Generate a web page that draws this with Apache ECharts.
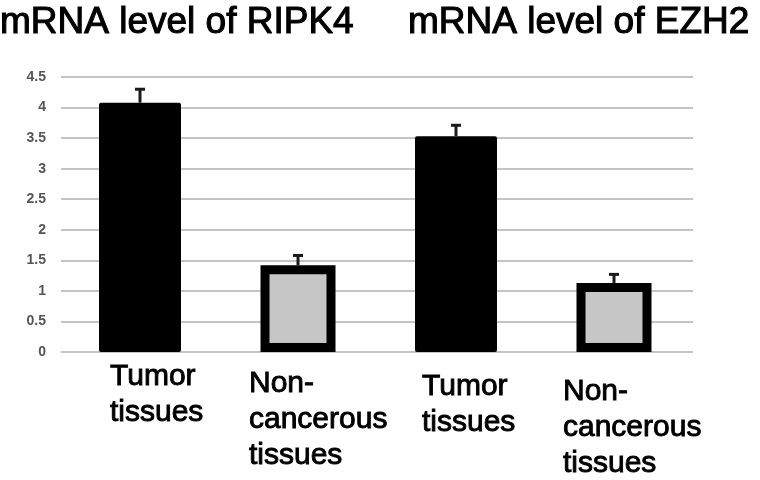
<!DOCTYPE html>
<html>
<head>
<meta charset="utf-8">
<script src="https://cdn.jsdelivr.net/npm/echarts@6/dist/echarts.min.js"></script>
<style>
    html, body { margin: 0; padding: 0; background: #fff; }
    #chart { width: 760px; height: 480px; }
</style>
</head>
<body>
<div id="chart"></div>
<script>
    // values
    var categories = ['Tumor\ntissues', 'Non-\ncancerous\ntissues', 'Tumor\ntissues', 'Non-\ncancerous\ntissues'];
    var titles = ['mRNA level of RIPK4', 'mRNA level of EZH2'];
    var tumorValues = [4.08, '-', 3.53, '-'];
    var nonCancerValues = ['-', 1.42, '-', 1.13];
    var meanValues = [4.08, 1.42, 3.53, 1.13];
    var errorValues = [0.22, 0.16, 0.18, 0.14];
    var yMin = 0, yMax = 4.5, yStep = 0.5;

    // label placement under each bar (px from category centre / zero line)
    var labelShift = [[-30, 7], [-49, 14], [-34, 17], [-51, 22]];

    var chart = echarts.init(document.getElementById('chart'));

    function renderError(params, api) {
        var i = api.value(0);
        var base = api.coord([i, api.value(1)]);
        var top = api.coord([i, api.value(1) + api.value(2)]);
        var style = { stroke: '#1a1a1a', lineWidth: 3 };
        return {
            type: 'group',
            children: [
                { type: 'line', shape: { x1: base[0], y1: base[1], x2: top[0], y2: top[1] }, style: style },
                { type: 'line', shape: { x1: top[0] - 5, y1: top[1], x2: top[0] + 5, y2: top[1] }, style: style }
            ]
        };
    }

    function renderLabel(params, api) {
        var i = api.value(0);
        var p = api.coord([i, 0]);
        var s = labelShift[i];
        return {
            type: 'text',
            x: p[0] + s[0],
            y: p[1] + s[1],
            style: {
                text: categories[i],
                fill: '#000',
                fontSize: 30,
                fontFamily: 'Liberation Sans',
                lineHeight: 36,
                align: 'left',
                verticalAlign: 'top',
                stroke: '#000',
                lineWidth: 0.9
            }
        };
    }

    var titleStyle = {
        fontSize: 37, fontWeight: 'normal', fontFamily: 'Liberation Sans', color: '#000',
        textBorderColor: '#000', textBorderWidth: 1.1
    };

    var option = {
        animation: false,
        backgroundColor: '#fff',
        title: [
            { text: titles[0], left: 0, top: 4, padding: 0, textStyle: titleStyle },
            { text: titles[1], left: 408, top: 4, padding: 0, textStyle: titleStyle }
        ],
        grid: { left: 61, right: 67, top: 77, bottom: 128, outerBoundsMode: 'none' },
        xAxis: [
            { type: 'category', data: categories, axisLine: { show: false }, axisTick: { show: false }, axisLabel: { show: false } },
            { type: 'category', data: categories, show: false }
        ],
        yAxis: {
            type: 'value',
            min: yMin,
            max: yMax,
            interval: yStep,
            axisLine: { show: false },
            axisTick: { show: false },
            axisLabel: { color: '#555', fontSize: 14, fontFamily: 'Liberation Sans', fontWeight: 'bold', margin: 15 },
            splitLine: { lineStyle: { color: '#c4c4c4', width: 2 } }
        },
        series: [
            {
                type: 'bar',
                xAxisIndex: 0,
                data: tumorValues,
                barWidth: 82,
                itemStyle: { color: '#000', borderRadius: 2 }
            },
            {
                type: 'bar',
                xAxisIndex: 1,
                data: nonCancerValues,
                barWidth: 75,
                itemStyle: { color: '#c6c6c6', borderColor: '#000', borderWidth: 9, borderJoin: 'miter' }
            },
            {
                type: 'custom',
                xAxisIndex: 0,
                renderItem: renderError,
                data: meanValues.map(function (v, i) { return [i, v, errorValues[i]]; }),
                z: 5
            },
            {
                type: 'custom',
                xAxisIndex: 0,
                clip: false,
                renderItem: renderLabel,
                data: categories.map(function (c, i) { return [i, 0]; }),
                z: 5
            }
        ]
    };
    chart.setOption(option);
</script>
</body>
</html>
